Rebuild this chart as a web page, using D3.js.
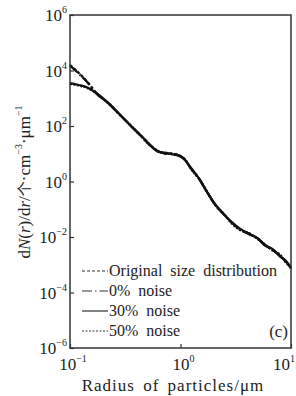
<!DOCTYPE html>
<html>
<head>
<meta charset="utf-8">
<script src="https://cdn.jsdelivr.net/npm/d3@7"></script>
<style>
  html, body { margin: 0; padding: 0; background: #fff; }
</style>
</head>
<body>
<div id="chart"></div>
<script>
(function(){
  "use strict";

  // radius of particles (um), shared by all series
  const radius = [0.1, 0.12, 0.145, 0.175, 0.22, 0.284, 0.36, 0.45, 0.53, 0.625, 0.72, 0.855, 0.99,
                  1.1, 1.22, 1.5, 1.74, 2.05, 2.42, 2.93, 3.45, 4.26, 4.92, 5.82, 6.87, 7.95, 9.2, 10];

  // dN(r)/dr
  const original = [15800, 8100, 3700, 1450, 690, 250, 96, 40, 20.6, 12.5, 10.6, 9.8, 8.3,
                    6.0, 3.3, 1.13, 0.42, 0.15, 0.073, 0.032, 0.019, 0.0127, 0.0092, 0.0051, 0.0034, 0.0021, 0.00116, 0.00083];
  const noise0   = [15000, 7800, 3600, 1420, 690, 250, 97, 40, 20.4, 12.3, 10.4, 9.9, 8.2,
                    6.1, 3.3, 1.12, 0.42, 0.15, 0.072, 0.032, 0.019, 0.0125, 0.0093, 0.0052, 0.0034, 0.0021, 0.00118, 0.00080];
  const noise30  = [3500, 3000, 2400, 1500, 700, 255, 95, 41, 20.8, 12.0, 10.9, 9.5, 8.4,
                    5.9, 3.4, 1.15, 0.41, 0.155, 0.070, 0.034, 0.020, 0.0120, 0.0095, 0.0049, 0.0036, 0.0020, 0.00125, 0.00072];
  const noise50  = [3300, 2900, 2300, 1480, 680, 248, 98, 39, 20.1, 12.8, 10.2, 10.1, 8.0,
                    6.2, 3.2, 1.10, 0.43, 0.145, 0.075, 0.030, 0.018, 0.0132, 0.0088, 0.0054, 0.0032, 0.0023, 0.00110, 0.00088];

  const seriesNames = ["Original size distribution", "0% noise", "30% noise", "50% noise"];
  const seriesValues = [original, noise0, noise30, noise50];
  const seriesDash = ["3,2", "10,3,1.5,3", null, "2,1.5"];

  const yTicks = [1e-6, 1e-4, 1e-2, 1e0, 1e2, 1e4, 1e6];
  const xTicks = [0.1, 1, 10];

  const W = 296, H = 396;
  const margin = {left: 70, top: 15, right: 5, bottom: 48};
  const SERIF = "Liberation Serif";

  const svg = d3.select("#chart").append("svg")
    .attr("width", W).attr("height", H);

  const x = d3.scaleLog().domain([0.1, 10]).range([margin.left, W - margin.right]);
  const y = d3.scaleLog().domain([1e-6, 1e6]).range([H - margin.bottom, margin.top]);

  // exponent of a power of ten, with a real minus sign
  function expo(v){
    let e = Math.round(Math.log10(v));
    return e < 0 ? "\u2212" + (-e) : String(e);
  }

  // small helper: serif text element
  function label(sel, size){
    return sel.append("text")
      .attr("fill", "#222")
      .style("font-family", SERIF)
      .style("font-size", size + "px");
  }

  // curves (drawn first so the frame sits on top)
  const line = d3.line()
    .x((d, i) => x(radius[i]))
    .y(d => y(d))
    .curve(d3.curveMonotoneX);

  seriesValues.forEach((vals, k) => {
    svg.append("path")
      .datum(vals)
      .attr("d", line)
      .attr("fill", "none")
      .attr("stroke", "#111")
      .attr("stroke-width", 2.3)
      .attr("stroke-dasharray", seriesDash[k]);
  });

  // y axis with inward ticks
  const yAxis = svg.append("g")
    .attr("transform", `translate(${margin.left},0)`)
    .call(d3.axisLeft(y).tickValues(yTicks).tickSize(-4).tickSizeOuter(0).tickFormat(""));
  yAxis.select(".domain").remove();
  yAxis.selectAll(".tick line").attr("stroke", "#333").attr("stroke-width", 1.2);

  // x axis with inward ticks
  const xAxis = svg.append("g")
    .attr("transform", `translate(0,${H - margin.bottom})`)
    .call(d3.axisBottom(x).tickValues(xTicks).tickSize(-4).tickSizeOuter(0).tickFormat(""));
  xAxis.select(".domain").remove();
  xAxis.selectAll(".tick line").attr("stroke", "#333").attr("stroke-width", 1.2);

  // frame
  svg.append("rect")
    .attr("x", margin.left).attr("y", margin.top)
    .attr("width", W - margin.right - margin.left)
    .attr("height", H - margin.bottom - margin.top)
    .attr("fill", "none").attr("stroke", "#333").attr("stroke-width", 1.5);

  // y tick labels
  yTicks.forEach(v => {
    let t = label(svg, 17)
      .attr("x", margin.left - 3)
      .attr("y", y(v) + 6)
      .attr("text-anchor", "end");
    t.append("tspan").text("10");
    t.append("tspan").attr("dy", -8).style("font-size", "10px").text(expo(v));
  });

  // x tick labels (last one sits against the right edge, as in the original)
  xTicks.forEach((v, i) => {
    let last = i === xTicks.length - 1;
    let t = label(svg, 17)
      .attr("x", last ? W - 1 : x(v) + 3)
      .attr("y", H - margin.bottom + 22)
      .attr("text-anchor", last ? "end" : "middle");
    t.append("tspan").text("10");
    t.append("tspan").attr("dy", -8).style("font-size", "10px").text(expo(v));
  });

  // x axis title
  label(svg, 17)
    .attr("x", 173).attr("y", 391)
    .attr("text-anchor", "middle")
    .style("letter-spacing", "1px")
    .style("word-spacing", "3px")
    .text("Radius of particles/\u03bcm");

  // y axis title
  const yt = label(svg, 17)
    .attr("transform", "translate(30,182) rotate(-90)")
    .attr("text-anchor", "middle");
  yt.append("tspan").text("d");
  yt.append("tspan").style("font-style", "italic").text("N");
  yt.append("tspan").text("(");
  yt.append("tspan").style("font-style", "italic").text("r");
  yt.append("tspan").text(")/d");
  yt.append("tspan").style("font-style", "italic").text("r");
  yt.append("tspan").text("/");
  yt.append("tspan").style("font-family", "Noto Sans CJK SC").style("font-size", "15px").text("\u4e2a");
  yt.append("tspan").text("\u00b7cm");
  yt.append("tspan").attr("dy", -8).style("font-size", "10px").text("\u22123");
  yt.append("tspan").attr("dy", 8).text("\u00b7\u03bcm");
  yt.append("tspan").attr("dy", -8).style("font-size", "10px").text("\u22121");

  // legend
  const lg = svg.append("g");
  seriesNames.forEach((name, k) => {
    let ly = 271 + k * 20;
    lg.append("line")
      .attr("x1", 82).attr("x2", 108)
      .attr("y1", ly).attr("y2", ly)
      .attr("stroke", "#333").attr("stroke-width", 1.2)
      .attr("stroke-dasharray", seriesDash[k]);
    label(lg, 16)
      .attr("x", 109).attr("y", ly + 5)
      .style("word-spacing", "4px")
      .text(name);
  });

  // panel letter
  label(svg, 17)
    .attr("x", 288).attr("y", 337)
    .attr("text-anchor", "end")
    .text("(c)");
})();
</script>
</body>
</html>
